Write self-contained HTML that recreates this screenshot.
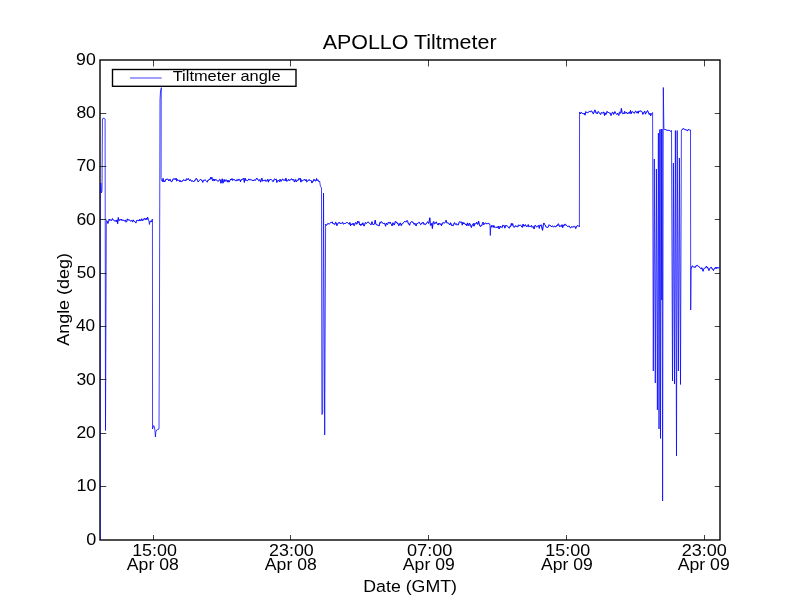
<!DOCTYPE html>
<html><head><meta charset="utf-8"><style>
html,body{margin:0;padding:0;background:#fff;}
svg{display:block;will-change:transform;}
text{font-family:"Liberation Sans",sans-serif;fill:#000;}
</style></head><body>
<svg width="800" height="600" viewBox="0 0 800 600">
<rect width="800" height="600" fill="#fff"/>
<defs><clipPath id="c"><rect x="100" y="60" width="620" height="480"/></clipPath></defs>
<rect x="100" y="60" width="620" height="480" fill="none" stroke="#000" stroke-width="1.39"/>
<g clip-path="url(#c)" fill="none" stroke="#0000ff"><path d="M100.42 540 V192" stroke-width="0.55"/><path d="M100.60 192.00 L100.80 183.00 L101.00 186.00 L101.30 193.00 L102.00 191.00 L102.45 119.00 L102.90 118.30 L104.20 118.40 L105.10 119.00 L105.50 430.50 L106.30 222.00 L106.60 220.57 L107.25 221.18 L107.90 223.44 L108.55 221.58 L109.20 219.07 L109.85 220.38 L110.50 219.83 L111.15 220.29 L111.80 220.45 L112.45 218.62 L113.10 219.51 L113.75 220.38 L114.40 220.66 L115.05 221.32 L115.70 220.44 L116.35 221.49 L117.00 219.90 L117.65 223.65 L118.30 217.56 L118.95 220.45 L119.60 220.29 L120.25 219.38 L120.90 220.21 L121.55 219.16 L122.20 220.60 L122.85 219.83 L123.50 220.37 L124.15 221.13 L124.80 220.55 L125.45 219.91 L126.10 222.18 L126.75 221.41 L127.40 218.86 L128.05 220.16 L128.70 219.73 L129.35 220.10 L130.00 220.40 L130.65 220.96 L131.30 220.60 L131.95 220.50 L132.60 222.07 L133.25 219.87 L133.90 221.13 L134.55 221.41 L135.20 222.06 L135.85 223.08 L136.50 220.61 L137.15 220.07 L137.80 220.69 L138.45 219.97 L139.10 221.08 L139.75 219.34 L140.40 220.50 L141.05 220.73 L141.70 218.78 L142.35 220.78 L143.00 219.49 L143.65 220.02 L144.30 218.32 L144.95 219.19 L145.60 219.63 L146.25 218.01 L146.90 219.67 L147.55 217.21 L148.20 218.86 L149.00 221.50 L149.40 224.50 L150.00 221.00 L150.60 222.20 L151.20 220.50 L151.80 222.00 L152.30 219.00 L152.45 222.00 L152.55 429.00 L153.60 425.50 L154.40 427.00 L155.00 431.00 L155.40 437.00 L155.80 432.00 L156.60 430.00 L159.00 429.00 L159.50 300.00 L160.00 100.00 L160.50 91.00 L160.90 90.00 L161.35 87.60 L161.20 95.00 L161.10 179.00 L161.80 180.61 L162.45 181.51 L163.10 178.42 L163.75 181.96 L164.40 181.03 L165.05 181.66 L165.70 179.50 L166.35 179.36 L167.00 179.54 L167.65 178.82 L168.30 180.03 L168.95 181.00 L169.60 179.59 L170.25 179.38 L170.90 181.37 L171.55 181.52 L172.20 181.37 L172.85 179.20 L173.50 179.28 L174.15 178.50 L174.80 179.50 L175.45 179.38 L176.10 178.16 L176.75 181.13 L177.40 179.63 L178.05 179.85 L178.70 180.51 L179.35 180.30 L180.00 181.92 L180.65 180.62 L181.30 181.73 L181.95 181.46 L182.60 181.11 L183.25 179.77 L183.90 179.97 L184.55 180.39 L185.20 180.00 L185.85 180.87 L186.50 178.85 L187.15 178.68 L187.80 179.57 L188.45 178.58 L189.10 179.88 L189.75 180.73 L190.40 179.64 L191.05 180.76 L191.70 181.20 L192.35 180.78 L193.00 181.15 L193.65 181.94 L194.30 181.19 L194.95 179.87 L195.60 180.03 L196.25 178.33 L196.90 179.01 L197.55 180.37 L198.20 182.02 L198.85 180.92 L199.50 180.32 L200.15 179.79 L200.80 179.30 L201.45 180.44 L202.10 180.44 L202.75 182.34 L203.40 180.43 L204.05 180.04 L204.70 180.27 L205.35 180.04 L206.00 180.61 L206.65 181.41 L207.30 182.20 L207.95 180.16 L208.60 180.21 L209.25 179.26 L209.90 179.79 L210.55 177.46 L211.20 178.94 L211.85 177.30 L212.50 180.49 L213.15 180.74 L213.80 178.96 L214.45 180.99 L215.10 179.34 L215.75 180.14 L216.40 179.93 L217.05 180.52 L217.70 180.86 L218.35 181.09 L219.00 180.78 L219.65 179.40 L220.30 179.82 L220.95 183.25 L221.60 180.60 L222.25 178.82 L222.90 183.17 L223.55 180.95 L224.20 179.49 L224.85 181.57 L225.50 180.06 L226.15 179.83 L226.80 180.39 L227.45 182.12 L228.10 180.20 L228.75 182.02 L229.40 181.78 L230.05 180.08 L230.70 179.07 L231.35 180.03 L232.00 178.58 L232.65 180.45 L233.30 179.48 L233.95 179.58 L234.60 179.66 L235.25 180.46 L235.90 181.11 L236.55 179.97 L237.20 179.40 L237.85 180.73 L238.50 179.33 L239.15 179.25 L239.80 179.67 L240.45 181.69 L241.10 179.65 L241.75 180.02 L242.40 179.08 L243.05 178.79 L243.70 178.52 L244.35 182.39 L245.00 178.15 L245.65 180.38 L246.30 180.26 L246.95 180.23 L247.60 180.64 L248.25 180.13 L248.90 178.89 L249.55 179.88 L250.20 179.44 L250.85 179.92 L251.50 179.92 L252.15 180.51 L252.80 180.23 L253.45 180.97 L254.10 179.79 L254.75 179.99 L255.40 180.30 L256.05 179.22 L256.70 178.08 L257.35 179.21 L258.00 179.31 L258.65 180.65 L259.30 180.21 L259.95 179.59 L260.60 182.11 L261.25 179.76 L261.90 178.15 L262.55 181.21 L263.20 180.24 L263.85 180.69 L264.50 180.63 L265.15 179.80 L265.80 181.40 L266.45 180.95 L267.10 180.64 L267.75 179.23 L268.40 182.15 L269.05 179.70 L269.70 180.29 L270.35 179.58 L271.00 179.33 L271.65 180.01 L272.30 180.44 L272.95 181.72 L273.60 181.13 L274.25 179.18 L274.90 178.92 L275.55 179.54 L276.20 178.98 L276.85 182.47 L277.50 181.08 L278.15 180.15 L278.80 180.95 L279.45 181.66 L280.10 179.31 L280.75 181.22 L281.40 181.16 L282.05 179.55 L282.70 179.05 L283.35 180.20 L284.00 179.57 L284.65 179.99 L285.30 180.80 L285.95 178.18 L286.60 181.20 L287.25 180.97 L287.90 180.45 L288.55 179.29 L289.20 180.67 L289.85 179.80 L290.50 180.02 L291.15 179.22 L291.80 178.78 L292.45 179.95 L293.10 180.11 L293.75 179.44 L294.40 182.06 L295.05 181.00 L295.70 179.54 L296.35 181.82 L297.00 180.67 L297.65 180.22 L298.30 180.29 L298.95 178.46 L299.60 179.31 L300.25 178.12 L300.90 182.11 L301.55 179.90 L302.20 180.53 L302.85 180.74 L303.50 180.20 L304.15 179.47 L304.80 179.65 L305.45 180.79 L306.10 179.42 L306.75 181.98 L307.40 181.37 L308.05 180.85 L308.70 179.89 L309.35 179.69 L310.00 180.82 L310.65 180.17 L311.30 180.83 L311.95 183.05 L312.60 181.26 L313.25 181.42 L313.90 179.22 L314.55 180.20 L315.20 181.12 L315.85 180.85 L316.50 178.59 L317.15 180.64 L317.80 179.81 L318.45 180.87 L319.10 181.80 L319.60 181.00 L320.20 185.00 L320.60 186.50 L321.50 188.00 L321.90 414.50 L322.70 413.00 L323.50 193.00 L324.70 435.00 L325.60 224.00 L325.80 224.44 L326.45 225.37 L327.10 224.63 L327.75 223.53 L328.40 223.67 L329.05 223.98 L329.70 223.70 L330.35 223.07 L331.00 222.17 L331.65 222.57 L332.30 221.84 L332.95 223.85 L333.60 223.65 L334.25 223.89 L334.90 224.51 L335.55 222.28 L336.20 222.69 L336.85 225.64 L337.50 223.80 L338.15 223.55 L338.80 222.41 L339.45 222.45 L340.10 223.69 L340.75 223.24 L341.40 223.53 L342.05 222.55 L342.70 222.34 L343.35 224.08 L344.00 223.86 L344.65 223.41 L345.30 223.43 L345.95 223.27 L346.60 222.52 L347.25 222.42 L347.90 222.97 L348.55 223.52 L349.20 224.27 L349.85 222.47 L350.50 225.66 L351.15 223.87 L351.80 224.77 L352.45 224.30 L353.10 223.13 L353.75 225.29 L354.40 225.49 L355.05 223.16 L355.70 222.38 L356.35 223.83 L357.00 224.16 L357.65 221.20 L358.30 222.47 L358.95 221.57 L359.60 224.79 L360.25 224.01 L360.90 225.59 L361.55 223.82 L362.20 224.65 L362.85 222.80 L363.50 225.34 L364.15 226.11 L364.80 224.14 L365.45 222.41 L366.10 223.31 L366.75 223.25 L367.40 222.61 L368.05 221.82 L368.70 222.73 L369.35 223.02 L370.00 223.87 L370.65 224.68 L371.30 224.53 L371.95 221.70 L372.60 223.70 L373.25 224.90 L373.90 224.03 L374.55 224.01 L375.20 220.18 L375.85 223.94 L376.50 224.81 L377.15 224.72 L377.80 225.33 L378.45 225.51 L379.10 226.08 L379.75 222.55 L380.40 223.15 L381.05 221.63 L381.70 222.12 L382.35 222.45 L383.00 223.61 L383.65 223.46 L384.30 223.18 L384.95 224.04 L385.60 226.21 L386.25 223.08 L386.90 224.06 L387.55 224.58 L388.20 222.48 L388.85 222.41 L389.50 223.26 L390.15 221.97 L390.80 223.70 L391.45 224.22 L392.10 225.91 L392.75 222.87 L393.40 223.15 L394.05 225.08 L394.70 223.83 L395.35 221.46 L396.00 222.50 L396.65 222.03 L397.30 223.51 L397.95 223.24 L398.60 225.64 L399.25 225.35 L399.90 223.09 L400.55 223.08 L401.20 225.58 L401.85 224.08 L402.50 223.81 L403.15 222.98 L403.80 222.40 L404.45 221.58 L405.10 221.84 L405.75 221.59 L406.40 221.78 L407.05 220.46 L407.70 221.55 L408.35 223.77 L409.00 223.94 L409.65 225.22 L410.30 222.73 L410.95 222.49 L411.60 221.53 L412.25 221.91 L412.90 221.97 L413.55 223.54 L414.20 224.37 L414.85 223.08 L415.50 224.80 L416.15 225.99 L416.80 223.55 L417.45 223.46 L418.10 223.25 L418.75 222.36 L419.40 222.37 L420.05 223.70 L420.70 224.72 L421.35 224.08 L422.00 222.60 L422.65 223.05 L423.30 222.33 L423.95 224.55 L424.60 224.04 L425.25 224.56 L425.90 224.23 L426.55 222.88 L427.20 222.32 L427.85 221.71 L428.50 223.42 L429.15 221.65 L429.80 217.80 L430.45 225.33 L431.10 225.12 L431.75 223.34 L432.40 228.50 L433.05 222.74 L433.70 221.53 L434.35 223.82 L435.00 223.81 L435.65 222.42 L436.30 221.89 L436.95 223.41 L437.60 224.61 L438.25 224.94 L438.90 223.02 L439.55 224.05 L440.20 224.67 L440.85 223.61 L441.50 225.60 L442.15 224.02 L442.80 222.72 L443.45 222.75 L444.10 223.00 L444.75 222.79 L445.40 222.27 L446.05 220.33 L446.70 222.83 L447.35 222.87 L448.00 222.90 L448.65 223.25 L449.30 224.33 L449.95 225.00 L450.60 222.77 L451.25 224.22 L451.90 225.94 L452.55 225.19 L453.20 225.71 L453.85 223.97 L454.50 222.62 L455.15 224.08 L455.80 224.34 L456.45 223.74 L457.10 225.16 L457.75 224.46 L458.40 224.74 L459.05 222.56 L459.70 221.59 L460.35 222.23 L461.00 221.93 L461.65 222.04 L462.30 225.11 L462.95 222.36 L463.60 223.86 L464.25 222.84 L464.90 223.79 L465.55 224.81 L466.20 224.05 L466.85 225.79 L467.50 222.88 L468.15 224.45 L468.80 225.74 L469.45 223.22 L470.10 223.92 L470.75 225.77 L471.40 227.49 L472.05 225.13 L472.70 224.71 L473.35 223.50 L474.00 226.20 L474.65 223.60 L475.30 224.08 L475.95 223.30 L476.60 222.19 L477.25 224.08 L477.90 224.26 L478.55 221.00 L479.20 224.00 L479.85 226.00 L480.50 226.68 L481.15 225.25 L481.80 225.61 L482.45 223.42 L483.10 222.15 L483.75 224.81 L484.40 223.80 L485.05 223.02 L485.70 222.99 L486.35 223.73 L487.00 223.82 L487.65 223.51 L488.30 223.28 L488.95 224.04 L489.60 223.99 L489.90 224.00 L490.30 235.50 L490.80 226.50 L491.20 227.29 L491.85 225.23 L492.50 226.31 L493.15 227.37 L493.80 225.44 L494.45 227.12 L495.10 227.67 L495.75 227.00 L496.40 226.98 L497.05 227.92 L497.70 226.95 L498.35 226.11 L499.00 228.92 L499.65 226.98 L500.30 226.03 L500.95 227.53 L501.60 226.85 L502.25 227.45 L502.90 224.96 L503.55 225.72 L504.20 225.49 L504.85 228.13 L505.50 225.61 L506.15 225.86 L506.80 225.39 L507.45 226.29 L508.10 226.94 L508.75 227.88 L509.40 228.14 L510.05 226.07 L510.70 226.43 L511.35 223.41 L512.00 225.26 L512.65 223.61 L513.30 226.36 L513.95 227.35 L514.60 227.02 L515.25 225.98 L515.90 225.55 L516.55 226.53 L517.20 226.44 L517.85 227.03 L518.50 224.81 L519.15 225.47 L519.80 225.36 L520.45 225.02 L521.10 225.73 L521.75 226.98 L522.40 227.37 L523.05 224.11 L523.70 226.15 L524.35 226.12 L525.00 224.76 L525.65 224.90 L526.30 226.55 L526.95 226.48 L527.60 226.16 L528.25 224.62 L528.90 226.95 L529.55 226.30 L530.20 226.40 L530.85 226.35 L531.50 225.41 L532.15 227.34 L532.80 226.57 L533.45 226.76 L534.10 228.96 L534.75 225.82 L535.40 225.10 L536.05 226.55 L536.70 227.00 L537.35 226.23 L538.00 225.97 L538.65 225.52 L539.30 228.36 L539.95 224.93 L540.60 225.45 L541.25 224.86 L541.90 227.87 L542.55 230.27 L543.20 225.68 L543.85 222.96 L544.50 224.36 L545.15 224.86 L545.80 226.74 L546.45 227.16 L547.10 227.11 L547.75 227.60 L548.40 226.52 L549.05 224.75 L549.70 225.45 L550.35 225.57 L551.00 226.01 L551.65 226.92 L552.30 225.91 L552.95 226.38 L553.60 226.86 L554.25 226.32 L554.90 226.11 L555.55 227.00 L556.20 226.56 L556.85 225.25 L557.50 225.95 L558.15 223.73 L558.80 224.35 L559.45 226.59 L560.10 226.46 L560.75 225.91 L561.40 226.39 L562.05 224.72 L562.70 227.64 L563.35 224.90 L564.00 225.82 L564.65 224.31 L565.30 224.23 L565.95 225.45 L566.60 225.38 L567.25 226.00 L567.90 226.75 L568.55 226.05 L569.20 226.04 L569.85 227.41 L570.50 227.87 L571.15 226.87 L571.80 226.74 L572.45 227.05 L573.10 226.95 L573.75 226.71 L574.40 225.94 L575.05 226.75 L575.70 228.59 L576.35 226.91 L577.00 225.84 L577.65 225.66 L578.30 225.68 L579.40 227.00 L579.55 112.00 L579.80 112.20 L580.45 113.87 L581.10 112.62 L581.75 112.72 L582.40 113.41 L583.05 113.48 L583.70 113.88 L584.35 113.05 L585.00 115.16 L585.65 111.74 L586.30 112.33 L586.95 112.25 L587.60 112.69 L588.25 112.27 L588.90 111.95 L589.55 111.42 L590.20 111.97 L590.85 111.11 L591.50 110.86 L592.15 111.87 L592.80 113.38 L593.45 113.73 L594.10 112.06 L594.75 109.99 L595.40 110.43 L596.05 113.35 L596.70 112.93 L597.35 113.67 L598.00 111.47 L598.65 112.05 L599.30 112.64 L599.95 113.78 L600.60 114.49 L601.25 112.63 L601.90 112.54 L602.55 113.15 L603.20 112.34 L603.85 112.01 L604.50 115.48 L605.15 112.89 L605.80 114.56 L606.45 113.75 L607.10 111.38 L607.75 112.41 L608.40 112.49 L609.05 112.74 L609.70 113.12 L610.35 113.17 L611.00 115.47 L611.65 113.66 L612.30 112.44 L612.95 112.25 L613.60 114.36 L614.25 113.19 L614.90 111.64 L615.55 113.17 L616.20 113.74 L616.85 114.50 L617.50 113.15 L618.15 114.20 L618.80 115.44 L619.45 112.15 L620.10 112.73 L620.75 113.15 L621.40 108.41 L622.05 112.54 L622.70 113.66 L623.35 113.09 L624.00 113.97 L624.65 111.35 L625.30 112.49 L625.95 113.36 L626.60 112.29 L627.25 113.26 L627.90 113.92 L628.55 112.63 L629.20 112.14 L629.85 113.43 L630.50 110.46 L631.15 113.72 L631.80 111.86 L632.45 111.66 L633.10 112.10 L633.75 112.94 L634.40 113.27 L635.05 111.59 L635.70 111.03 L636.35 112.21 L637.00 113.14 L637.65 111.57 L638.30 113.27 L638.95 110.84 L639.60 111.41 L640.25 111.02 L640.90 111.04 L641.55 111.27 L642.20 112.17 L642.85 114.39 L643.50 113.07 L644.15 111.81 L644.80 111.17 L645.45 114.14 L646.10 112.76 L646.75 112.11 L647.40 110.68 L648.05 111.27 L648.70 113.61 L649.35 114.51 L650.00 113.13 L650.65 115.75 L651.30 114.61 L651.95 113.14 L652.60 112.50 L653.30 371.00 L654.30 159.00 L655.30 383.00 L656.40 169.00 L657.40 410.00 L658.40 133.00 L659.00 429.00 L659.80 129.50 L660.50 438.50 L661.10 129.00 L661.80 300.00 L662.00 129.00 L662.60 501.00 L663.30 87.50 L663.90 129.00 L664.30 129.64 L664.95 129.47 L665.60 129.57 L666.25 130.10 L666.90 130.06 L667.55 130.42 L668.20 129.98 L668.85 130.65 L669.50 130.42 L670.15 130.68 L670.80 131.55 L671.50 130.50 L672.50 381.00 L673.40 163.00 L674.50 384.00 L675.40 130.50 L676.50 456.00 L677.20 130.50 L678.40 371.00 L679.40 158.00 L680.50 384.50 L681.40 130.00 L681.80 130.02 L682.45 129.37 L683.10 128.38 L683.75 128.95 L684.40 129.27 L685.05 129.61 L685.70 129.77 L686.35 129.69 L687.00 130.73 L687.65 130.70 L688.30 129.35 L688.95 129.73 L689.60 129.94 L690.50 130.00 L690.70 310.00 L691.10 268.00 L691.40 268.29 L692.05 266.05 L692.70 266.13 L693.35 266.77 L694.00 266.91 L694.65 267.23 L695.30 267.36 L695.95 265.78 L696.60 265.77 L697.25 265.30 L697.90 266.14 L698.55 266.27 L699.20 267.10 L699.85 267.47 L700.50 268.24 L701.15 269.12 L701.80 267.70 L702.45 269.22 L703.10 271.23 L703.75 268.78 L704.40 268.42 L705.05 268.00 L705.70 267.58 L706.35 266.20 L707.00 267.83 L707.65 267.23 L708.30 269.18 L708.95 270.50 L709.60 268.65 L710.25 268.26 L710.90 267.30 L711.55 267.44 L712.20 269.13 L712.85 269.36 L713.50 270.57 L714.15 268.62 L714.80 268.34 L715.45 267.43 L716.10 268.76 L716.75 267.04 L717.40 268.06 L718.05 267.54 L718.70 267.89 L719.35 267.76 L720.00 267.53 L720.65 267.09 L721.30 265.38 L721.95 266.05" stroke-width="0.75"/><path d="M106.60 220.57 L107.25 221.18 L107.90 223.44 L108.55 221.58 L109.20 219.07 L109.85 220.38 L110.50 219.83 L111.15 220.29 L111.80 220.45 L112.45 218.62 L113.10 219.51 L113.75 220.38 L114.40 220.66 L115.05 221.32 L115.70 220.44 L116.35 221.49 L117.00 219.90 L117.65 223.65 L118.30 217.56 L118.95 220.45 L119.60 220.29 L120.25 219.38 L120.90 220.21 L121.55 219.16 L122.20 220.60 L122.85 219.83 L123.50 220.37 L124.15 221.13 L124.80 220.55 L125.45 219.91 L126.10 222.18 L126.75 221.41 L127.40 218.86 L128.05 220.16 L128.70 219.73 L129.35 220.10 L130.00 220.40 L130.65 220.96 L131.30 220.60 L131.95 220.50 L132.60 222.07 L133.25 219.87 L133.90 221.13 L134.55 221.41 L135.20 222.06 L135.85 223.08 L136.50 220.61 L137.15 220.07 L137.80 220.69 L138.45 219.97 L139.10 221.08 L139.75 219.34 L140.40 220.50 L141.05 220.73 L141.70 218.78 L142.35 220.78M143.00 219.49 L143.65 220.02 L144.30 218.32 L144.95 219.19 L145.60 219.63 L146.25 218.01 L146.90 219.67 L147.55 217.21 L148.20 218.86M161.80 180.61 L162.45 181.51 L163.10 178.42 L163.75 181.96 L164.40 181.03 L165.05 181.66 L165.70 179.50 L166.35 179.36 L167.00 179.54 L167.65 178.82 L168.30 180.03 L168.95 181.00 L169.60 179.59 L170.25 179.38 L170.90 181.37 L171.55 181.52 L172.20 181.37 L172.85 179.20 L173.50 179.28 L174.15 178.50 L174.80 179.50 L175.45 179.38 L176.10 178.16 L176.75 181.13 L177.40 179.63 L178.05 179.85 L178.70 180.51 L179.35 180.30 L180.00 181.92 L180.65 180.62 L181.30 181.73 L181.95 181.46 L182.60 181.11 L183.25 179.77 L183.90 179.97 L184.55 180.39 L185.20 180.00 L185.85 180.87 L186.50 178.85 L187.15 178.68 L187.80 179.57 L188.45 178.58 L189.10 179.88 L189.75 180.73 L190.40 179.64 L191.05 180.76 L191.70 181.20 L192.35 180.78 L193.00 181.15 L193.65 181.94 L194.30 181.19 L194.95 179.87 L195.60 180.03 L196.25 178.33 L196.90 179.01 L197.55 180.37 L198.20 182.02 L198.85 180.92 L199.50 180.32 L200.15 179.79 L200.80 179.30 L201.45 180.44 L202.10 180.44 L202.75 182.34 L203.40 180.43 L204.05 180.04 L204.70 180.27 L205.35 180.04 L206.00 180.61 L206.65 181.41 L207.30 182.20 L207.95 180.16 L208.60 180.21 L209.25 179.26 L209.90 179.79 L210.55 177.46 L211.20 178.94 L211.85 177.30 L212.50 180.49 L213.15 180.74 L213.80 178.96 L214.45 180.99 L215.10 179.34 L215.75 180.14 L216.40 179.93 L217.05 180.52 L217.70 180.86 L218.35 181.09 L219.00 180.78 L219.65 179.40 L220.30 179.82 L220.95 183.25 L221.60 180.60 L222.25 178.82 L222.90 183.17 L223.55 180.95 L224.20 179.49 L224.85 181.57 L225.50 180.06 L226.15 179.83 L226.80 180.39 L227.45 182.12 L228.10 180.20 L228.75 182.02 L229.40 181.78 L230.05 180.08 L230.70 179.07 L231.35 180.03 L232.00 178.58 L232.65 180.45 L233.30 179.48 L233.95 179.58 L234.60 179.66 L235.25 180.46 L235.90 181.11 L236.55 179.97 L237.20 179.40 L237.85 180.73 L238.50 179.33 L239.15 179.25 L239.80 179.67 L240.45 181.69 L241.10 179.65 L241.75 180.02 L242.40 179.08 L243.05 178.79 L243.70 178.52 L244.35 182.39 L245.00 178.15 L245.65 180.38 L246.30 180.26 L246.95 180.23 L247.60 180.64 L248.25 180.13 L248.90 178.89 L249.55 179.88 L250.20 179.44 L250.85 179.92 L251.50 179.92 L252.15 180.51 L252.80 180.23 L253.45 180.97 L254.10 179.79 L254.75 179.99 L255.40 180.30 L256.05 179.22 L256.70 178.08 L257.35 179.21 L258.00 179.31 L258.65 180.65 L259.30 180.21 L259.95 179.59 L260.60 182.11 L261.25 179.76 L261.90 178.15 L262.55 181.21 L263.20 180.24 L263.85 180.69 L264.50 180.63 L265.15 179.80 L265.80 181.40 L266.45 180.95 L267.10 180.64 L267.75 179.23 L268.40 182.15 L269.05 179.70 L269.70 180.29 L270.35 179.58 L271.00 179.33 L271.65 180.01 L272.30 180.44 L272.95 181.72 L273.60 181.13 L274.25 179.18 L274.90 178.92 L275.55 179.54 L276.20 178.98 L276.85 182.47 L277.50 181.08 L278.15 180.15 L278.80 180.95 L279.45 181.66 L280.10 179.31 L280.75 181.22 L281.40 181.16 L282.05 179.55 L282.70 179.05 L283.35 180.20 L284.00 179.57 L284.65 179.99 L285.30 180.80 L285.95 178.18 L286.60 181.20 L287.25 180.97 L287.90 180.45 L288.55 179.29 L289.20 180.67 L289.85 179.80 L290.50 180.02 L291.15 179.22 L291.80 178.78 L292.45 179.95 L293.10 180.11 L293.75 179.44 L294.40 182.06 L295.05 181.00 L295.70 179.54 L296.35 181.82 L297.00 180.67 L297.65 180.22 L298.30 180.29 L298.95 178.46 L299.60 179.31 L300.25 178.12 L300.90 182.11 L301.55 179.90 L302.20 180.53 L302.85 180.74 L303.50 180.20 L304.15 179.47 L304.80 179.65 L305.45 180.79 L306.10 179.42 L306.75 181.98 L307.40 181.37 L308.05 180.85 L308.70 179.89 L309.35 179.69 L310.00 180.82 L310.65 180.17 L311.30 180.83 L311.95 183.05 L312.60 181.26 L313.25 181.42 L313.90 179.22 L314.55 180.20 L315.20 181.12 L315.85 180.85 L316.50 178.59 L317.15 180.64 L317.80 179.81 L318.45 180.87 L319.10 181.80M325.80 224.44 L326.45 225.37 L327.10 224.63 L327.75 223.53 L328.40 223.67 L329.05 223.98 L329.70 223.70 L330.35 223.07 L331.00 222.17 L331.65 222.57 L332.30 221.84 L332.95 223.85 L333.60 223.65 L334.25 223.89 L334.90 224.51 L335.55 222.28 L336.20 222.69 L336.85 225.64 L337.50 223.80 L338.15 223.55 L338.80 222.41 L339.45 222.45 L340.10 223.69 L340.75 223.24 L341.40 223.53 L342.05 222.55 L342.70 222.34 L343.35 224.08 L344.00 223.86 L344.65 223.41 L345.30 223.43 L345.95 223.27 L346.60 222.52 L347.25 222.42 L347.90 222.97 L348.55 223.52 L349.20 224.27 L349.85 222.47 L350.50 225.66 L351.15 223.87 L351.80 224.77 L352.45 224.30 L353.10 223.13 L353.75 225.29 L354.40 225.49 L355.05 223.16 L355.70 222.38 L356.35 223.83 L357.00 224.16 L357.65 221.20 L358.30 222.47 L358.95 221.57 L359.60 224.79 L360.25 224.01 L360.90 225.59 L361.55 223.82 L362.20 224.65 L362.85 222.80 L363.50 225.34 L364.15 226.11 L364.80 224.14 L365.45 222.41 L366.10 223.31 L366.75 223.25 L367.40 222.61 L368.05 221.82 L368.70 222.73 L369.35 223.02 L370.00 223.87 L370.65 224.68 L371.30 224.53 L371.95 221.70 L372.60 223.70 L373.25 224.90 L373.90 224.03 L374.55 224.01 L375.20 220.18 L375.85 223.94 L376.50 224.81 L377.15 224.72 L377.80 225.33 L378.45 225.51 L379.10 226.08 L379.75 222.55 L380.40 223.15 L381.05 221.63 L381.70 222.12 L382.35 222.45 L383.00 223.61 L383.65 223.46 L384.30 223.18 L384.95 224.04 L385.60 226.21 L386.25 223.08 L386.90 224.06 L387.55 224.58 L388.20 222.48 L388.85 222.41 L389.50 223.26 L390.15 221.97 L390.80 223.70 L391.45 224.22 L392.10 225.91 L392.75 222.87 L393.40 223.15 L394.05 225.08 L394.70 223.83 L395.35 221.46 L396.00 222.50 L396.65 222.03 L397.30 223.51 L397.95 223.24 L398.60 225.64 L399.25 225.35 L399.90 223.09 L400.55 223.08 L401.20 225.58 L401.85 224.08 L402.50 223.81 L403.15 222.98 L403.80 222.40 L404.45 221.58 L405.10 221.84 L405.75 221.59 L406.40 221.78 L407.05 220.46 L407.70 221.55 L408.35 223.77 L409.00 223.94 L409.65 225.22 L410.30 222.73 L410.95 222.49 L411.60 221.53 L412.25 221.91 L412.90 221.97 L413.55 223.54 L414.20 224.37 L414.85 223.08 L415.50 224.80 L416.15 225.99 L416.80 223.55 L417.45 223.46 L418.10 223.25 L418.75 222.36 L419.40 222.37 L420.05 223.70 L420.70 224.72 L421.35 224.08 L422.00 222.60 L422.65 223.05 L423.30 222.33 L423.95 224.55 L424.60 224.04 L425.25 224.56 L425.90 224.23 L426.55 222.88 L427.20 222.32 L427.85 221.71 L428.50 223.42 L429.15 221.65 L429.80 217.80 L430.45 225.33 L431.10 225.12 L431.75 223.34 L432.40 228.50 L433.05 222.74 L433.70 221.53 L434.35 223.82 L435.00 223.81 L435.65 222.42 L436.30 221.89 L436.95 223.41 L437.60 224.61 L438.25 224.94 L438.90 223.02 L439.55 224.05 L440.20 224.67 L440.85 223.61 L441.50 225.60 L442.15 224.02 L442.80 222.72 L443.45 222.75 L444.10 223.00 L444.75 222.79 L445.40 222.27 L446.05 220.33 L446.70 222.83 L447.35 222.87 L448.00 222.90 L448.65 223.25 L449.30 224.33 L449.95 225.00 L450.60 222.77 L451.25 224.22 L451.90 225.94 L452.55 225.19 L453.20 225.71 L453.85 223.97 L454.50 222.62 L455.15 224.08 L455.80 224.34 L456.45 223.74 L457.10 225.16 L457.75 224.46 L458.40 224.74 L459.05 222.56 L459.70 221.59 L460.35 222.23 L461.00 221.93 L461.65 222.04 L462.30 225.11 L462.95 222.36 L463.60 223.86 L464.25 222.84 L464.90 223.79 L465.55 224.81 L466.20 224.05 L466.85 225.79 L467.50 222.88 L468.15 224.45 L468.80 225.74 L469.45 223.22 L470.10 223.92 L470.75 225.77 L471.40 227.49 L472.05 225.13 L472.70 224.71 L473.35 223.50 L474.00 226.20 L474.65 223.60 L475.30 224.08 L475.95 223.30 L476.60 222.19 L477.25 224.08 L477.90 224.26 L478.55 221.00 L479.20 224.00 L479.85 226.00 L480.50 226.68 L481.15 225.25 L481.80 225.61 L482.45 223.42 L483.10 222.15 L483.75 224.81 L484.40 223.80 L485.05 223.02 L485.70 222.99 L486.35 223.73 L487.00 223.82 L487.65 223.51 L488.30 223.28 L488.95 224.04 L489.60 223.99M491.20 227.29 L491.85 225.23 L492.50 226.31 L493.15 227.37 L493.80 225.44 L494.45 227.12 L495.10 227.67 L495.75 227.00 L496.40 226.98 L497.05 227.92 L497.70 226.95 L498.35 226.11 L499.00 228.92 L499.65 226.98 L500.30 226.03 L500.95 227.53 L501.60 226.85 L502.25 227.45 L502.90 224.96 L503.55 225.72 L504.20 225.49 L504.85 228.13 L505.50 225.61 L506.15 225.86 L506.80 225.39 L507.45 226.29 L508.10 226.94 L508.75 227.88 L509.40 228.14 L510.05 226.07 L510.70 226.43 L511.35 223.41 L512.00 225.26 L512.65 223.61 L513.30 226.36 L513.95 227.35 L514.60 227.02 L515.25 225.98 L515.90 225.55 L516.55 226.53 L517.20 226.44 L517.85 227.03 L518.50 224.81 L519.15 225.47 L519.80 225.36 L520.45 225.02 L521.10 225.73 L521.75 226.98 L522.40 227.37 L523.05 224.11 L523.70 226.15 L524.35 226.12 L525.00 224.76 L525.65 224.90 L526.30 226.55 L526.95 226.48 L527.60 226.16 L528.25 224.62 L528.90 226.95 L529.55 226.30 L530.20 226.40 L530.85 226.35 L531.50 225.41 L532.15 227.34 L532.80 226.57 L533.45 226.76 L534.10 228.96 L534.75 225.82 L535.40 225.10 L536.05 226.55 L536.70 227.00 L537.35 226.23 L538.00 225.97 L538.65 225.52 L539.30 228.36 L539.95 224.93 L540.60 225.45 L541.25 224.86 L541.90 227.87 L542.55 230.27 L543.20 225.68 L543.85 222.96 L544.50 224.36 L545.15 224.86 L545.80 226.74 L546.45 227.16 L547.10 227.11 L547.75 227.60 L548.40 226.52 L549.05 224.75 L549.70 225.45 L550.35 225.57 L551.00 226.01 L551.65 226.92 L552.30 225.91 L552.95 226.38 L553.60 226.86 L554.25 226.32 L554.90 226.11 L555.55 227.00 L556.20 226.56 L556.85 225.25 L557.50 225.95 L558.15 223.73 L558.80 224.35 L559.45 226.59 L560.10 226.46 L560.75 225.91 L561.40 226.39 L562.05 224.72 L562.70 227.64 L563.35 224.90 L564.00 225.82 L564.65 224.31 L565.30 224.23 L565.95 225.45 L566.60 225.38 L567.25 226.00 L567.90 226.75 L568.55 226.05 L569.20 226.04 L569.85 227.41 L570.50 227.87 L571.15 226.87 L571.80 226.74 L572.45 227.05 L573.10 226.95 L573.75 226.71 L574.40 225.94 L575.05 226.75 L575.70 228.59 L576.35 226.91 L577.00 225.84 L577.65 225.66 L578.30 225.68M579.80 112.20 L580.45 113.87 L581.10 112.62 L581.75 112.72 L582.40 113.41 L583.05 113.48 L583.70 113.88 L584.35 113.05 L585.00 115.16 L585.65 111.74 L586.30 112.33 L586.95 112.25 L587.60 112.69 L588.25 112.27 L588.90 111.95 L589.55 111.42 L590.20 111.97 L590.85 111.11 L591.50 110.86 L592.15 111.87 L592.80 113.38 L593.45 113.73 L594.10 112.06 L594.75 109.99 L595.40 110.43 L596.05 113.35 L596.70 112.93 L597.35 113.67 L598.00 111.47 L598.65 112.05 L599.30 112.64 L599.95 113.78 L600.60 114.49 L601.25 112.63 L601.90 112.54 L602.55 113.15 L603.20 112.34 L603.85 112.01 L604.50 115.48 L605.15 112.89 L605.80 114.56 L606.45 113.75 L607.10 111.38 L607.75 112.41 L608.40 112.49 L609.05 112.74 L609.70 113.12 L610.35 113.17 L611.00 115.47 L611.65 113.66 L612.30 112.44 L612.95 112.25 L613.60 114.36 L614.25 113.19 L614.90 111.64 L615.55 113.17 L616.20 113.74 L616.85 114.50 L617.50 113.15 L618.15 114.20 L618.80 115.44 L619.45 112.15 L620.10 112.73 L620.75 113.15 L621.40 108.41 L622.05 112.54 L622.70 113.66 L623.35 113.09 L624.00 113.97 L624.65 111.35 L625.30 112.49 L625.95 113.36 L626.60 112.29 L627.25 113.26 L627.90 113.92 L628.55 112.63 L629.20 112.14 L629.85 113.43 L630.50 110.46 L631.15 113.72 L631.80 111.86 L632.45 111.66 L633.10 112.10 L633.75 112.94 L634.40 113.27 L635.05 111.59 L635.70 111.03 L636.35 112.21 L637.00 113.14 L637.65 111.57 L638.30 113.27 L638.95 110.84 L639.60 111.41 L640.25 111.02 L640.90 111.04 L641.55 111.27 L642.20 112.17 L642.85 114.39 L643.50 113.07 L644.15 111.81 L644.80 111.17 L645.45 114.14 L646.10 112.76 L646.75 112.11 L647.40 110.68 L648.05 111.27 L648.70 113.61 L649.35 114.51 L650.00 113.13 L650.65 115.75 L651.30 114.61 L651.95 113.14M664.30 129.64 L664.95 129.47 L665.60 129.57 L666.25 130.10 L666.90 130.06 L667.55 130.42 L668.20 129.98 L668.85 130.65 L669.50 130.42 L670.15 130.68 L670.80 131.55M681.80 130.02 L682.45 129.37 L683.10 128.38 L683.75 128.95 L684.40 129.27 L685.05 129.61 L685.70 129.77 L686.35 129.69 L687.00 130.73 L687.65 130.70 L688.30 129.35 L688.95 129.73 L689.60 129.94M691.40 268.29 L692.05 266.05 L692.70 266.13 L693.35 266.77 L694.00 266.91 L694.65 267.23 L695.30 267.36 L695.95 265.78 L696.60 265.77 L697.25 265.30 L697.90 266.14 L698.55 266.27 L699.20 267.10 L699.85 267.47 L700.50 268.24 L701.15 269.12 L701.80 267.70 L702.45 269.22 L703.10 271.23 L703.75 268.78 L704.40 268.42 L705.05 268.00 L705.70 267.58 L706.35 266.20 L707.00 267.83 L707.65 267.23 L708.30 269.18 L708.95 270.50 L709.60 268.65 L710.25 268.26 L710.90 267.30 L711.55 267.44 L712.20 269.13 L712.85 269.36 L713.50 270.57 L714.15 268.62 L714.80 268.34 L715.45 267.43 L716.10 268.76 L716.75 267.04 L717.40 268.06 L718.05 267.54 L718.70 267.89 L719.35 267.76 L720.00 267.53 L720.65 267.09 L721.30 265.38 L721.95 266.05" stroke-width="0.6"/></g>
<g stroke="#000" stroke-width="0.75" fill="none"><path d="M100 486.5 H106.3 M714.8 486.5 H720"/><path d="M100 433.5 H106.3 M714.8 433.5 H720"/><path d="M100 379.5 H106.3 M714.8 379.5 H720"/><path d="M100 326.5 H106.3 M714.8 326.5 H720"/><path d="M100 273.5 H106.3 M714.8 273.5 H720"/><path d="M100 219.5 H106.3 M714.8 219.5 H720"/><path d="M100 166.5 H106.3 M714.8 166.5 H720"/><path d="M100 113.5 H106.3 M714.8 113.5 H720"/><path d="M153.5 540 V535.0 M153.5 60 V66.4"/><path d="M290.5 540 V535.0 M290.5 60 V66.4"/><path d="M428.5 540 V535.0 M428.5 60 V66.4"/><path d="M566.5 540 V535.0 M566.5 60 V66.4"/><path d="M704.5 540 V535.0 M704.5 60 V66.4"/></g>
<rect x="112.5" y="69.5" width="183.5" height="16.8" fill="#fff" stroke="#000" stroke-width="1.39"/>
<path d="M130 78 H161.6" stroke="#0000ff" stroke-width="0.75"/>
<text transform="translate(86.16 545.00) scale(1.0610 1)" font-size="17">0</text><text transform="translate(76.41 491.00) scale(1.0613 1)" font-size="17">10</text><text transform="translate(76.38 438.00) scale(1.0300 1)" font-size="17">20</text><text transform="translate(76.38 385.00) scale(1.0300 1)" font-size="17">30</text><text transform="translate(75.96 331.00) scale(1.0097 1)" font-size="17">40</text><text transform="translate(76.68 278.00) scale(1.0141 1)" font-size="17">50</text><text transform="translate(76.38 225.00) scale(1.0300 1)" font-size="17">60</text><text transform="translate(76.38 171.00) scale(1.0300 1)" font-size="17">70</text><text transform="translate(76.38 118.00) scale(1.0300 1)" font-size="17">80</text><text transform="translate(76.08 65.00) scale(1.0414 1)" font-size="17">90</text><text transform="translate(132.17 556.00) scale(1.0533 1)" font-size="17">15:00</text><text transform="translate(126.87 570.00) scale(1.0367 1)" font-size="17">Apr 08</text><text transform="translate(269.05 556.00) scale(1.0514 1)" font-size="17">23:00</text><text transform="translate(264.87 570.00) scale(1.0367 1)" font-size="17">Apr 08</text><text transform="translate(406.96 556.00) scale(1.0680 1)" font-size="17">07:00</text><text transform="translate(402.82 570.00) scale(1.0375 1)" font-size="17">Apr 09</text><text transform="translate(545.27 556.00) scale(1.0558 1)" font-size="17">15:00</text><text transform="translate(540.92 570.00) scale(1.0344 1)" font-size="17">Apr 09</text><text transform="translate(681.74 556.00) scale(1.0612 1)" font-size="17">23:00</text><text transform="translate(677.77 570.00) scale(1.0375 1)" font-size="17">Apr 09</text>
<text transform="translate(172.68 80.80) scale(1.1721 1)" font-size="14">Tiltmeter angle</text>
<text transform="translate(322.66 48.80) scale(1.0724 1)" font-size="20">APOLLO Tiltmeter</text>
<text transform="translate(363.25 591.80) scale(1.0450 1)" font-size="17">Date (GMT)</text>
<g transform="translate(69 0) rotate(-90)"><text transform="translate(-345.84 0.00) scale(1.0576 1)" font-size="17">Angle (deg)</text></g>
</svg>
</body></html>
